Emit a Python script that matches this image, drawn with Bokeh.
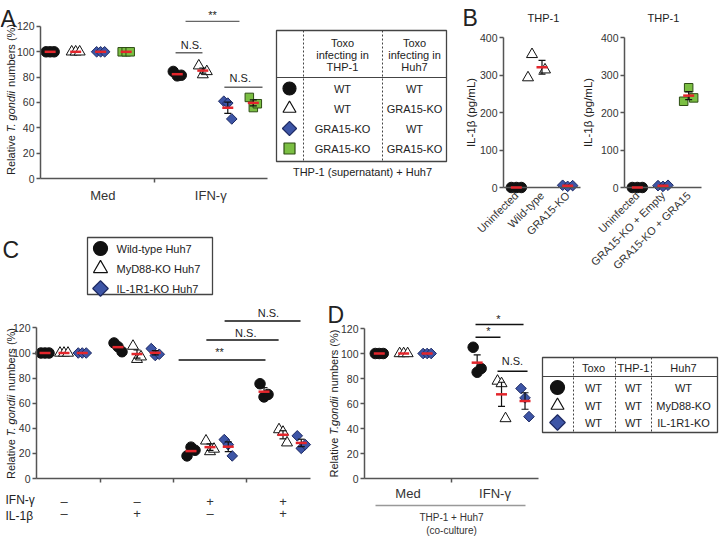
import math
import numpy as np
from bokeh.plotting import figure
from bokeh.models import (Range1d, LinearAxis, FixedTicker, Label, ColumnDataSource,
                          Whisker, TeeHead, GridBox)
from bokeh.layouts import row
from bokeh.core.properties import value
from bokeh.embed import file_html
from bokeh.resources import INLINE

# ---------------- data ----------------
# Panel A  (Relative T. gondii numbers, %)
a_groups = ["Med", "IFN-γ"]
a_wt_wt = [[100, 100, 100], [84.5, 81.0, 81.5]]
a_wt_gko = [[100, 100, 100], [89.0, 82.0, 84.5]]
a_gko_wt = [[100, 100, 100], [61.0, 59.5, 47.0]]
a_gko_gko = [[100, 100, 100], [64.0, 56.0, 59.0]]
a_tbl_thp1 = ["WT", "WT", "GRA15-KO", "GRA15-KO"]
a_tbl_huh7 = ["WT", "GRA15-KO", "WT", "GRA15-KO"]

# Panel B  (IL-1β, pg/mL)
b1_cats = ["Uninfected", "Wild-type", "GRA15-KO"]
b1_vals = [[0, 0, 0], [355, 293, 314], [6, 3, 5]]
b2_cats = ["Uninfected", "GRA15-KO + Empty", "GRA15-KO + GRA15"]
b2_vals = [[0, 0, 0], [5, 3, 6], [266, 230, 239]]

# Panel C
c_ifn = ["–", "–", "+", "+"]
c_il1b = ["–", "+", "–", "+"]
c_wt = [[100, 100, 100], [108, 105, 101], [18, 25, 22.5], [75.5, 65, 67]]
c_myd88 = [[100, 100, 100], [105.5, 95, 97], [30, 21.5, 23.5], [39, 37, 28.5]]
c_il1r1 = [[100, 100, 100], [103.5, 98, 99], [31, 27, 18], [34, 24, 27]]
c_legend = ["Wild-type  Huh7", "MyD88-KO Huh7", "IL-1R1-KO Huh7"]

# Panel D
d_groups = ["Med", "IFN-γ"]
d_wt = [[100, 100, 100], [105, 85, 88]]
d_myd88 = [[100, 100, 100], [78, 76, 48]]
d_il1r1 = [[100, 100, 100], [72, 64.5, 49.5]]
d_tbl_huh7 = ["WT", "MyD88-KO", "IL-1R1-KO"]

# ---------------- style ----------------
FONT = "Liberation Sans"
AX = "#555555"
INK = "#222222"
BLACK = "#111111"
RED = "#e3262c"
BLUE = "#3d55a6"
BLUE_EDGE = "#1e2a63"
GREEN = "#7bbf43"
GREEN_EDGE = "#2e4d14"

MARK = {
    "circle": dict(marker="circle", fill_color=BLACK, line_color=BLACK, angle=0.0),
    "triangle": dict(marker="triangle", fill_color="white", line_color=BLACK, angle=0.0),
    "diamond": dict(marker="square", fill_color=BLUE, line_color=BLUE_EDGE, angle=math.pi / 4),
    "square": dict(marker="square", fill_color=GREEN, line_color=GREEN_EDGE, angle=0.0),
}
SIZE = {"circle": 10.5, "triangle": 11, "diamond": 7.5, "square": 8.5}
JIT = [-4.0, 0.0, 4.0]

AW = {' ': 278, 'R': 722, 'e': 556, 'l': 222, 'a': 556, 't': 278, 'i': 222, 'v': 500,
      'T': 611, '.': 278, 'g': 556, 'o': 556, 'n': 556, 'd': 556, 'u': 556, 'm': 833,
      'b': 556, 'r': 333, 's': 500, '(': 333, '%': 889, ')': 333, 'I': 278, 'L': 556,
      '-': 333, '1': 556, 'β': 570, '/': 278, 'p': 556}


def tw(s, size):
    return sum(AW.get(c, 556) for c in s) * size / 1000.0


def make_panel(cx, cy, w, h, x0, ux, y0, uy):
    """Frame covers the whole canvas; axes are placed at fixed data locations."""
    p = figure(width=w, height=h,
               x_range=Range1d((cx - x0) / ux, (cx + w - x0) / ux),
               y_range=Range1d((y0 - (cy + h)) / uy, (y0 - cy) / uy),
               x_axis_type=None, y_axis_type=None, toolbar_location=None,
               output_backend="svg",
               min_border_left=0, min_border_right=0, min_border_top=0, min_border_bottom=0)
    p.outline_line_color = None
    p.background_fill_color = "white"
    p.border_fill_color = "white"
    p.extra_x_ranges = {"img": Range1d(cx, cx + w)}
    p.extra_y_ranges = {"img": Range1d(cy + h, cy)}
    return p


def style_axis(ax):
    ax.axis_line_color = AX
    ax.axis_line_width = 1.5
    ax.major_tick_line_color = AX
    ax.major_tick_line_width = 1.5
    ax.minor_tick_line_color = AX
    ax.minor_tick_line_width = 1.5
    ax.major_label_text_font = FONT
    ax.major_label_text_color = "#333333"


def y_axis(p, ticks, bounds, loc=0.0, size="10.5px", standoff=2):
    ax = LinearAxis(ticker=FixedTicker(ticks=ticks), bounds=bounds, fixed_location=loc)
    style_axis(ax)
    ax.major_tick_out = 4
    ax.major_tick_in = 0
    ax.major_label_standoff = standoff
    ax.major_label_text_font_size = size
    p.add_layout(ax, "left")


def cat_axis(p, ticks, labels, minor, bounds, standoff, size, loc=0.0, line=True):
    ax = LinearAxis(ticker=FixedTicker(ticks=ticks, minor_ticks=minor), bounds=bounds,
                    fixed_location=loc, major_label_overrides=dict(zip(ticks, labels)))
    style_axis(ax)
    if not line:
        ax.axis_line_color = None
    ax.major_tick_line_color = None
    ax.major_tick_out = 0
    ax.major_tick_in = 0
    ax.minor_tick_out = 4
    ax.minor_tick_in = 0
    ax.major_label_standoff = standoff
    ax.major_label_text_font_size = size
    p.add_layout(ax, "below")
    return ax


def dots(p, xs, vals, kind, unit):
    x, y = [], []
    for xc, vs in zip(xs, vals):
        for j, v in zip(JIT, vs):
            x.append(xc + j / unit)
            y.append(v)
    p.scatter(x, y, size=SIZE[kind], line_width=1, **MARK[kind])


def summary(p, xs, vals):
    means = [float(np.mean(v)) for v in vals]
    sems = [float(np.std(v, ddof=1) / np.sqrt(len(v))) for v in vals]
    src = ColumnDataSource(dict(base=list(xs), lower=[m - s for m, s in zip(means, sems)],
                                upper=[m + s for m, s in zip(means, sems)]))
    w = Whisker(source=src, base="base", lower="lower", upper="upper", dimension="height",
                line_color=BLACK, line_width=1.2, level="annotation",
                lower_head=TeeHead(size=7, line_color=BLACK, line_width=1.2),
                upper_head=TeeHead(size=7, line_color=BLACK, line_width=1.2))
    p.add_layout(w)
    p.scatter(list(xs), means, marker="dash", size=11, line_color=RED, line_width=2.5,
              level="overlay")


def sig(p, x0, x1, y, text, tx, ty, color):
    p.segment(x0=[x0], y0=[y], x1=[x1], y1=[y], line_color=color, line_width=1.4)
    p.text(x=[tx], y=[ty], text=[text], text_font=value(FONT), text_font_size="11px",
           text_align="center", text_baseline="middle", text_color=INK)


def img_text(p, xs, ys, texts, size="11px", align="center"):
    p.text(x=list(xs), y=list(ys), text=list(texts), x_range_name="img", y_range_name="img",
           text_font=value(FONT), text_font_size=size, text_align=align,
           text_baseline="middle", text_color=INK)


def img_label(p, x, y, text, size, angle=0.0, align="left", baseline="middle", style="normal"):
    p.add_layout(Label(x=x, y=y, x_range_name="img", y_range_name="img", text=text,
                       angle=angle, text_align=align, text_baseline=baseline,
                       text_font=FONT, text_font_size=size, text_font_style=style,
                       text_color=INK))


def y_title(p, x, yc, parts, size=11):
    """Rotated axis title made of runs with different styles; spaces between runs
    are kept as offsets because SVG collapses leading/trailing spaces."""
    total = sum(tw(t, size) for t, _ in parts)
    y = yc + total / 2
    for t, st in parts:
        lead = len(t) - len(t.lstrip(" "))
        core = t.strip(" ")
        img_label(p, x, y - tw(" " * lead, size), core, f"{size}px", angle=math.pi / 2,
                  align="left", style=st)
        y -= tw(t, size)


def img_marker(p, x, y, kind, size):
    p.scatter([x], [y], size=size, line_width=1.2, x_range_name="img", y_range_name="img",
              **MARK[kind])


def img_box(p, l, r, t, b):
    p.quad(left=[l], right=[r], top=[t], bottom=[b], fill_alpha=0, line_color="#444444",
           line_width=1.3, x_range_name="img", y_range_name="img")


def img_seg(p, x0, y0, x1, y1, dash="solid", color="#444444", width=1.2):
    p.segment(x0=[x0], y0=[y0], x1=[x1], y1=[y1], line_color=color, line_width=width,
              line_dash=dash, x_range_name="img", y_range_name="img")


# ================= Panel A =================
A_UX, A_UY = 113.5, 1.267
pa = make_panel(0, 0, 448, 230, 40, A_UX, 178, A_UY)
y_axis(pa, [0, 20, 40, 60, 80, 100, 120], (0, 120))
cat_axis(pa, [0.55, 1.5], a_groups, [1], (0, 2), 5, "13px")
a_centers = [0.42, 1.54]
a_off = [-0.335, -0.11, 0.11, 0.335]
for k, (vals, kind) in enumerate([(a_wt_wt, "circle"), (a_wt_gko, "triangle"),
                                   (a_gko_wt, "diamond"), (a_gko_gko, "square")]):
    xs = [c + a_off[k] for c in a_centers]
    dots(pa, xs, vals, kind, A_UX)
    summary(pa, xs, vals)
sig(pa, 1.278, 1.753, 124, "**", 1.515, 129, "#666666")
sig(pa, 1.19, 1.427, 99.2, "N.S.", 1.33, 105.5, "#666666")
sig(pa, 1.62, 1.956, 72, "N.S.", 1.76, 79, "#666666")
# table
img_box(pa, 276, 446, 30, 161)
img_seg(pa, 276, 77, 446, 77)
img_seg(pa, 303, 30, 303, 161, dash="2 2", width=1)
img_seg(pa, 382, 30, 382, 161, dash="2 2", width=1)
img_text(pa, [342] * 3 + [414] * 3, [42, 54, 66] * 2,
         ["Toxo", "infecting in", "THP-1", "Toxo", "infecting in", "Huh7"])
rows_y = [88, 108, 128, 148]
for yy, kind, sz in zip(rows_y, ["circle", "triangle", "diamond", "square"], [13, 13, 10, 11]):
    img_marker(pa, 289, yy, kind, sz)
img_text(pa, [342] * 4, rows_y, a_tbl_thp1)
img_text(pa, [414] * 4, rows_y, a_tbl_huh7)
img_text(pa, [362], [171], ["THP-1 (supernatant) + Huh7"])
y_title(pa, 10, 99, [("Relative ", "normal"), ("T. gondii", "italic"), (" numbers (%)", "normal")])
img_label(pa, 0, 18, "A", "23px", baseline="alphabetic")

# ================= Panel B =================
B_UY = 0.375


def b_panel(cx, w, x0, cats, vals, kinds, offs, title_x, ylab_x, letter=False):
    ux = 77 / 3.0
    p = make_panel(cx, 0, w, 286, x0, ux, 187, B_UY)
    y_axis(p, [0, 100, 200, 300, 400], (0, 400))
    ax = LinearAxis(ticker=FixedTicker(ticks=[0.5, 1.5, 2.5]), fixed_location=0, bounds=(0, 3),
                    major_label_overrides=dict(zip([0.5, 1.5, 2.5], cats)))
    style_axis(ax)
    ax.major_tick_line_color = None
    ax.major_tick_out = 0
    ax.major_tick_in = 0
    ax.major_label_orientation = math.pi / 4
    ax.major_label_standoff = 6
    ax.major_label_text_font_size = "11px"
    p.add_layout(ax, "below")
    for i, (v, kind) in enumerate(zip(vals, kinds)):
        xc = 0.5 + i
        xs, ys = [], []
        for o, vv in zip(offs[i], v):
            xs.append(xc + o / ux)
            ys.append(vv)
        p.scatter(xs, ys, size=SIZE[kind], line_width=1, **MARK[kind])
        summary(p, [xc], [v])
    img_label(p, title_x, 17, "THP-1", "11px", align="center")
    y_title(p, ylab_x, 112, [("IL-1β (pg/mL)", "normal")], size=11.5)
    if letter:
        img_label(p, 462, 17, "B", "23px", baseline="alphabetic")
    return p


pb1 = b_panel(448, 134, 503, b1_cats, b1_vals, ["circle", "triangle", "diamond"],
              [[-5, 0, 5], [-10, -14, 3], [-5, 0, 5]], 543, 470, letter=True)
pb2 = b_panel(582, 138, 624, b2_cats, b2_vals, ["circle", "diamond", "square"],
              [[-5, 0, 5], [-5, 0, 5], [0, -5, 5]], 663, 587)

# ================= Panel C =================
C_UX, C_UY = 73.0, 1.255
C_LEFT = 9 / 73   # y axis sits at the left end of the x axis
pc = make_panel(0, 230, 325, 306, 27, C_UX, 478, C_UY)
y_axis(pc, [0, 20, 40, 60, 80, 100, 120], (0, 120), loc=C_LEFT)
c_ticks = [0.5, 1.5, 2.5, 3.5]
cat_axis(pc, c_ticks, c_ifn, [1, 2, 3], (C_LEFT, 283 / 73), 11, "13px")
cat_axis(pc, c_ticks, c_il1b, [], (C_LEFT, 283 / 73), 1, "13px",
         loc=(478 - 504) / C_UY, line=False)
c_off = [-0.26, 0.0, 0.25]
for k, (vals, kind) in enumerate([(c_wt, "circle"), (c_myd88, "triangle"), (c_il1r1, "diamond")]):
    xs = [c + c_off[k] for c in c_ticks]
    dots(pc, xs, vals, kind, C_UX)
    summary(pc, xs, vals)
sig(pc, 2.07, 3.26, 94.4, "**", 2.63, 100.4, BLACK)
sig(pc, 2.45, 3.44, 110.4, "N.S.", 2.99, 116.3, BLACK)
sig(pc, 2.70, 3.74, 125.5, "N.S.", 3.30, 131.5, BLACK)
# legend
img_box(pc, 87, 212, 237, 294)
for yy, kind, sz in zip([248, 268, 288], ["circle", "triangle", "diamond"], [14, 14, 11]):
    img_marker(pc, 100, yy, kind, sz)
img_text(pc, [116] * 3, [248, 268, 288], c_legend, align="left")
img_label(pc, 5, 499, "IFN-γ", "12px")
img_label(pc, 5, 515, "IL-1β", "12px")
y_title(pc, 10, 403, [("Relative ", "normal"), ("T. gondii", "italic"), (" numbers (%)", "normal")])
img_label(pc, 2, 249, "C", "23px", baseline="alphabetic")

# ================= Panel D =================
D_UX, D_UY = 87.0, 1.25
pd_ = make_panel(325, 286, 395, 250, 364, D_UX, 478, D_UY)
y_axis(pd_, [0, 20, 40, 60, 80, 100, 120], (0, 120))
cat_axis(pd_, [0.5, 1.5], d_groups, [1], (0, 2), 3, "13px")
axd2 = LinearAxis(ticker=FixedTicker(ticks=[1]), bounds=(11 / 87, 161 / 87),
                  fixed_location=(478 - 505) / D_UY,
                  major_label_overrides={1: "THP-1 + Huh7\n(co-culture)"})
style_axis(axd2)
axd2.axis_line_color = "#999999"
axd2.major_tick_line_color = None
axd2.major_tick_out = 0
axd2.major_tick_in = 0
axd2.major_label_standoff = 6
axd2.major_label_text_font_size = "10px"
pd_.add_layout(axd2, "below")
d_centers = [0.45, 1.575]
d_off = [-0.28, 0.0, 0.27]
for k, (vals, kind) in enumerate([(d_wt, "circle"), (d_myd88, "triangle"), (d_il1r1, "diamond")]):
    xs = [c + d_off[k] for c in d_centers]
    dots(pd_, xs, vals, kind, D_UX)
    summary(pd_, xs, vals)
sig(pd_, 1.276, 1.828, 123.2, "*", 1.54, 128, BLACK)
sig(pd_, 1.276, 1.563, 113, "*", 1.425, 118.4, BLACK)
sig(pd_, 1.529, 1.874, 85.8, "N.S.", 1.70, 94.4, BLACK)
# table
img_box(pd_, 542, 717, 357, 432)
img_seg(pd_, 542, 376, 717, 376)
for xx in [573, 615, 651]:
    img_seg(pd_, xx, 357, xx, 432, dash="2 2", width=1)
img_text(pd_, [593, 633, 683], [367] * 3, ["Toxo", "THP-1", "Huh7"])
d_rows = [387, 405, 422]
for yy, kind, sz in zip(d_rows, ["circle", "triangle", "diamond"], [14, 13, 11]):
    img_marker(pd_, 557, yy, kind, sz)
img_text(pd_, [593] * 3, d_rows, ["WT"] * 3)
img_text(pd_, [633] * 3, d_rows, ["WT"] * 3)
img_text(pd_, [683] * 3, d_rows, d_tbl_huh7)
y_title(pd_, 333, 403, [("Relative ", "normal"), ("T.gondii", "italic"), (" numbers (%)", "normal")])
img_label(pd_, 327, 314, "D", "23px", baseline="alphabetic")

# ================= layout =================
grid = GridBox(children=[(pa, 0, 0, 1, 2), (row(pb1, pb2), 0, 2, 2, 1),
                         (pc, 1, 0, 2, 1), (pd_, 2, 1, 1, 2)],
               rows=["230px", "56px", "250px"], cols=["325px", "123px", "272px"])

open("out.html", "w").write(file_html(grid, INLINE))
